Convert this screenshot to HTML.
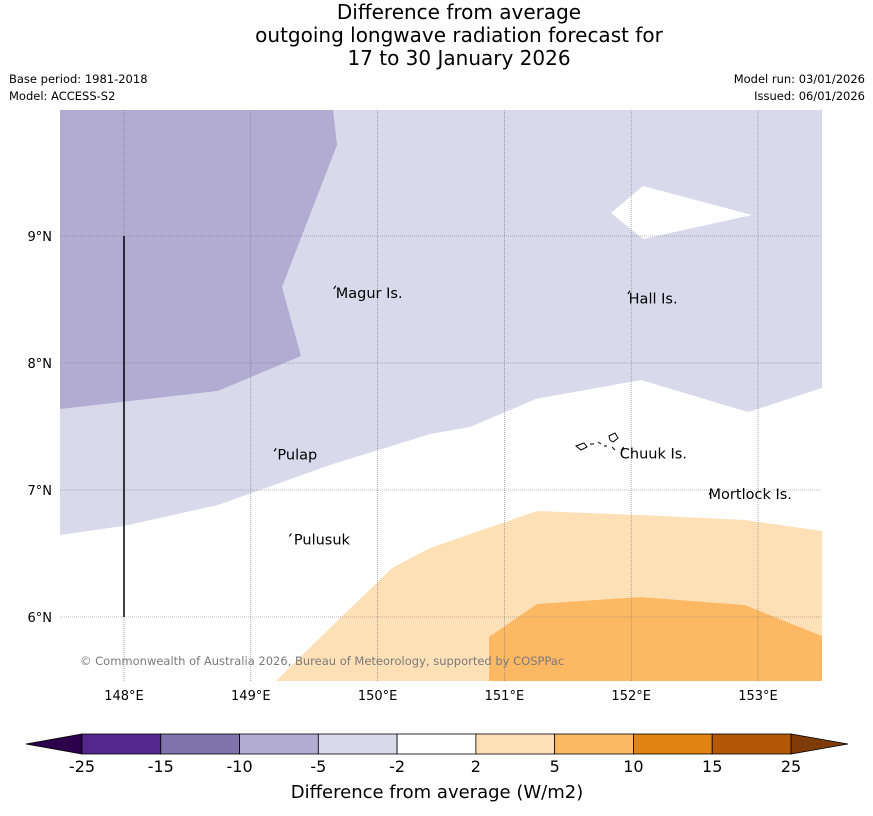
<!DOCTYPE html>
<html><head><meta charset="utf-8"><style>
body{margin:0;background:#fff;font-family:"DejaVu Sans","Liberation Sans",sans-serif;}
#wrap{position:relative;width:873px;height:816px;overflow:hidden;}
</style></head><body>
<div id="wrap">
<svg id="svg" width="873" height="816" xmlns="http://www.w3.org/2000/svg" font-family="DejaVu Sans, Liberation Sans, sans-serif">
<g font-size="20" text-anchor="middle" fill="#000">
<text x="459" y="19">Difference from average</text>
<text x="459" y="42">outgoing longwave radiation forecast for</text>
<text x="459" y="65">17 to 30 January 2026</text>
</g>
<g font-size="11.5" fill="#000">
<text x="9" y="83">Base period: 1981-2018</text>
<text x="9" y="100">Model: ACCESS-S2</text>
<text x="865" y="83" text-anchor="end">Model run: 03/01/2026</text>
<text x="865" y="100" text-anchor="end">Issued: 06/01/2026</text>
</g>
<g id="map"></g>
<g id="cbar"></g>
<text x="437" y="798" font-size="18" text-anchor="middle">Difference from average (W/m2)</text>
</svg>
</div>
<script>
const NS="http://www.w3.org/2000/svg";
// axes
const lonTicks=[148,149,150,151,152,153];
const latTicks=[9,8,7,6];
const lonLabels=["148°E","149°E","150°E","151°E","152°E","153°E"];
const latLabels=["9°N","8°N","7°N","6°N"];
// contour polygons (lon, lat)
const bandDarkLon=[147.495,149.648,149.680,149.246,149.396,148.741,147.495];
const bandDarkLat=[9.992,9.992,9.717,8.598,8.055,7.780,7.638];
const bandLightLon=[147.495,153.505,153.505,152.921,152.077,151.249,150.729,150.413,149.625,148.741,148.0,147.495];
const bandLightLat=[9.992,9.992,7.803,7.614,7.866,7.717,7.496,7.441,7.197,6.882,6.717,6.646];
const holeLon=[151.841,152.093,152.953,152.093];
const holeLat=[9.181,9.394,9.165,8.976];
const orangeLightLon=[149.199,149.625,150.114,150.413,151.257,152.069,152.897,153.505,153.505];
const orangeLightLat=[5.496,5.913,6.386,6.543,6.835,6.803,6.764,6.677,5.496];
const orangeLon=[150.879,150.879,151.257,152.077,152.897,153.505,153.505];
const orangeLat=[5.496,5.843,6.102,6.157,6.094,5.850,5.496];
const places=["Magur Is.","Hall Is.","Pulap","Chuuk Is.","Mortlock Is.","Pulusuk"];
const placeLon=[149.67,151.99,149.2,151.94,152.63,149.32];
const placeLat=[8.6,8.56,7.32,7.33,6.98,6.65];
const labelLon=[149.67,151.98,149.21,151.91,152.61,149.34];
const labelLat=[8.51,8.47,7.24,7.25,6.93,6.57];
const cbLabels=["-25","-15","-10","-5","-2","2","5","10","15","25"];
const cbColors=["#54278f","#8073ac","#b2abd2","#d8daeb","#ffffff","#fee0b6","#fdb863","#e08214","#b35806"];

const X=lon=>124+(lon-148)*126.8;
const Y=lat=>236-(lat-9)*127;
const map=document.getElementById('map');
function mk(tag,attrs,parent){const e=document.createElementNS(NS,tag);for(const k in attrs)e.setAttribute(k,attrs[k]);parent.appendChild(e);return e;}
function pts(lo,la){return lo.map((v,i)=>X(v).toFixed(1)+","+Y(la[i]).toFixed(1)).join(" ");}
const cp=mk('clipPath',{id:'mc'},map);mk('rect',{x:60,y:110,width:762,height:571},cp);
const g=mk('g',{'clip-path':'url(#mc)'},map);
let p=mk('polygon',{points:pts(bandLightLon,bandLightLat),fill:'#d8daeb'},g);


p=mk('polygon',{points:pts(holeLon,holeLat),fill:'#ffffff'},g);


p=mk('polygon',{points:pts(bandDarkLon,bandDarkLat),fill:'#b2abd2'},g);


p=mk('polygon',{points:pts(orangeLightLon,orangeLightLat),fill:'#fee0b6'},g);


p=mk('polygon',{points:pts(orangeLon,orangeLat),fill:'#fdb863'},g);


// grid
lonTicks.forEach((v,i)=>{
 const l=mk('line',{x1:X(v),x2:X(v),y1:110,y2:681,stroke:'#777','stroke-width':0.6,'stroke-dasharray':'1,1'},map);
 
 
 const t=mk('text',{x:X(v),y:700,'font-size':13,'text-anchor':'middle'},map);t.textContent=lonLabels[i];
 
 
});
latTicks.forEach((v,i)=>{
 const l=mk('line',{x1:60,x2:822,y1:Y(v),y2:Y(v),stroke:'#777','stroke-width':0.6,'stroke-dasharray':'1,1'},map);
 
 
 const t=mk('text',{x:52,y:Y(v)+5,'font-size':13,'text-anchor':'end'},map);t.textContent=latLabels[i];
 
 
});
const vl=mk('line',{x1:X(148),x2:X(148),y1:Y(9),y2:Y(6),stroke:'#000','stroke-width':1.5},map);


places.forEach((n,i)=>{
 const m=mk('path',{d:`M${X(placeLon[i])-2},${Y(placeLat[i])+2} l2,-3`,stroke:'#000','stroke-width':1.2,fill:'none'},map);
 
 
 const t=mk('text',{x:X(labelLon[i]),y:Y(labelLat[i]),'font-size':14.5},map);t.textContent=n;
 
 
});
const ch=mk('path',{d:'M576,446 l8,-3 l3,4 l-6,3z M590,444 l4,0 M598,442 l3,2 M604,446 l3,0 M609,436 l6,-3 l3,5 l-5,4 l-3,-2z M612,447 l3,3',stroke:'#000','stroke-width':1,fill:'none'},map);


const cr=mk('text',{x:80,y:665,'font-size':11.5,fill:'#7a7a7a'},map);cr.textContent="© Commonwealth of Australia 2026, Bureau of Meteorology, supported by COSPPac";


// colorbar
const cb=document.getElementById('cbar');
const x0=82,x1=791,w=(x1-x0)/cbColors.length;
let t=mk('polygon',{points:`26,744 82,734 82,754`,fill:'#2d004b',stroke:'#000','stroke-width':0.8},cb);


t=mk('polygon',{points:`848,744 791,734 791,754`,fill:'#7f3b08',stroke:'#000','stroke-width':0.8},cb);


cbColors.forEach((c,i)=>{
 const r=mk('rect',{x:x0+i*w,y:734,width:w,height:20,fill:c,stroke:'#000','stroke-width':0.8},cb);
 
 
});
cbLabels.forEach((s,i)=>{
 const tx=mk('text',{x:x0+i*w,y:772,'font-size':16,'text-anchor':'middle'},cb);tx.textContent=s;
 
 
});
</script>
</body></html>
